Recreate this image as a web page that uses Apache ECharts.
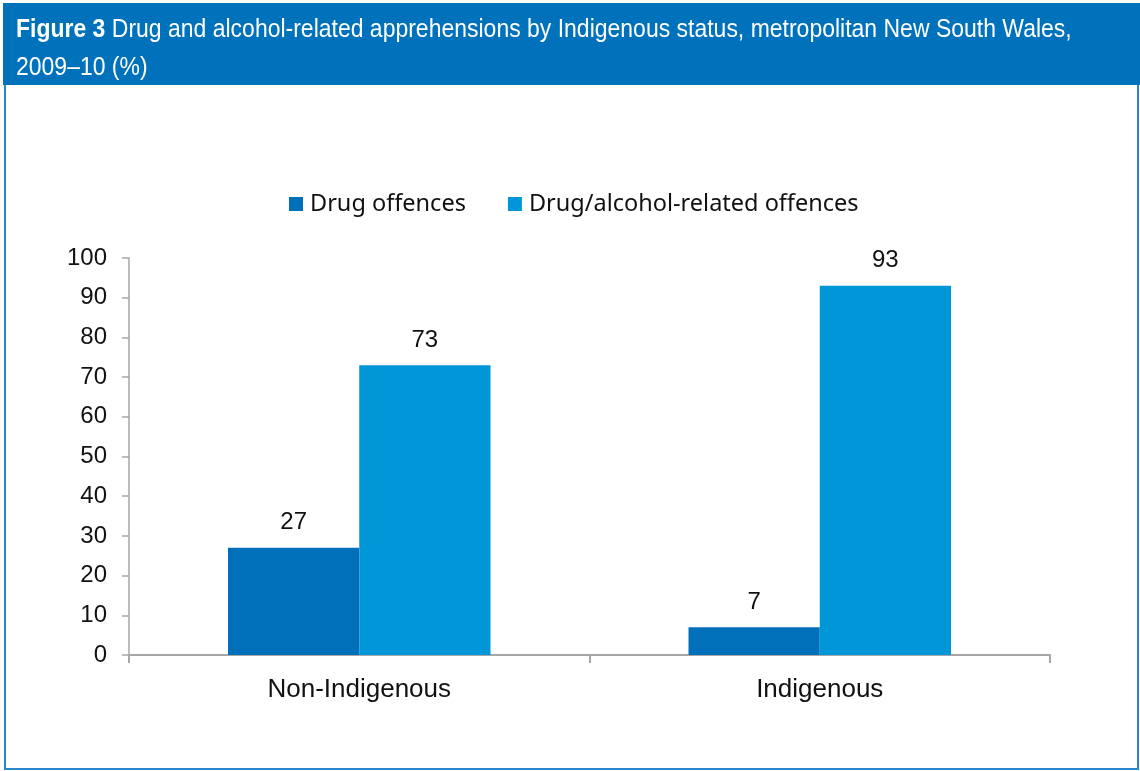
<!DOCTYPE html>
<html>
<head>
<meta charset="utf-8">
<script src="https://cdn.jsdelivr.net/npm/echarts@6/dist/echarts.min.js"></script>
<style>
  html, body { margin: 0; padding: 0; background: #fff; }
  #chart { width: 1140px; height: 771px; }
</style>
</head>
<body>
<div id="chart"></div>
<script>
const categories = ['Non-Indigenous', 'Indigenous'];
const drugOffences = [27, 7];
const drugAlcoholOffences = [73, 93];
const seriesNames = ['Drug offences', 'Drug/alcohol-related offences'];

const chart = echarts.init(document.getElementById('chart'));

const labelStyle = {
  show: true,
  position: 'top',
  distance: 13,
  color: '#111',
  fontFamily: 'Liberation Sans',
  fontSize: 24
};

chart.setOption({
  backgroundColor: '#fff',
  animation: false,
  graphic: [
    {
      type: 'rect',
      shape: { x: 5, y: 84, width: 1133, height: 685 },
      style: { fill: 'none', stroke: '#2b88cb', lineWidth: 2 }
    },
    {
      type: 'rect',
      shape: { x: 3, y: 3, width: 1137, height: 82 },
      style: { fill: '#0071bb' }
    },
    {
      // condensed look: Liberation Sans squeezed horizontally
      type: 'text',
      x: 16,
      y: 11,
      scaleX: 0.884,
      style: {
        text: '{b|Figure 3} Drug and alcohol-related apprehensions by Indigenous status, metropolitan New South Wales,\n2009–10 (%)',
        fill: '#fff',
        fontFamily: 'Liberation Sans',
        fontSize: 26,
        lineHeight: 38,
        rich: {
          b: { fontWeight: 'bold', fill: '#fff', fontFamily: 'Liberation Sans', fontSize: 26, lineHeight: 38 }
        }
      }
    }
  ],
  legend: {
    top: 187,
    left: 284,
    itemWidth: 14,
    itemHeight: 14,
    itemGap: 42,
    icon: 'rect',
    textStyle: { fontFamily: 'Noto Sans', fontSize: 23.5, color: '#111', padding: [0, 0, 0, 2] },
    data: seriesNames
  },
  grid: { left: 129, right: 90, top: 258, bottom: 116 },
  xAxis: {
    type: 'category',
    data: categories,
    axisLine: { lineStyle: { color: '#a6a6a6', width: 2 } },
    axisTick: { show: true, length: 8, lineStyle: { color: '#a6a6a6', width: 2 } },
    axisLabel: { margin: 22, color: '#111', fontFamily: 'Liberation Sans', fontSize: 26 }
  },
  yAxis: {
    type: 'value',
    min: 0,
    max: 100,
    interval: 10,
    axisLine: { show: true, lineStyle: { color: '#a6a6a6', width: 1.5 } },
    axisTick: { show: true, length: 7, lineStyle: { color: '#a6a6a6', width: 1.5 } },
    splitLine: { show: false },
    axisLabel: { margin: 22, color: '#111', fontFamily: 'Liberation Sans', fontSize: 24 }
  },
  series: [
    {
      name: seriesNames[0],
      type: 'bar',
      data: drugOffences,
      barGap: '0%',
      barCategoryGap: '43%',
      itemStyle: { color: '#0070ba' },
      label: labelStyle
    },
    {
      name: seriesNames[1],
      type: 'bar',
      data: drugAlcoholOffences,
      itemStyle: { color: '#0096d8' },
      label: labelStyle
    }
  ]
});
</script>
</body>
</html>
